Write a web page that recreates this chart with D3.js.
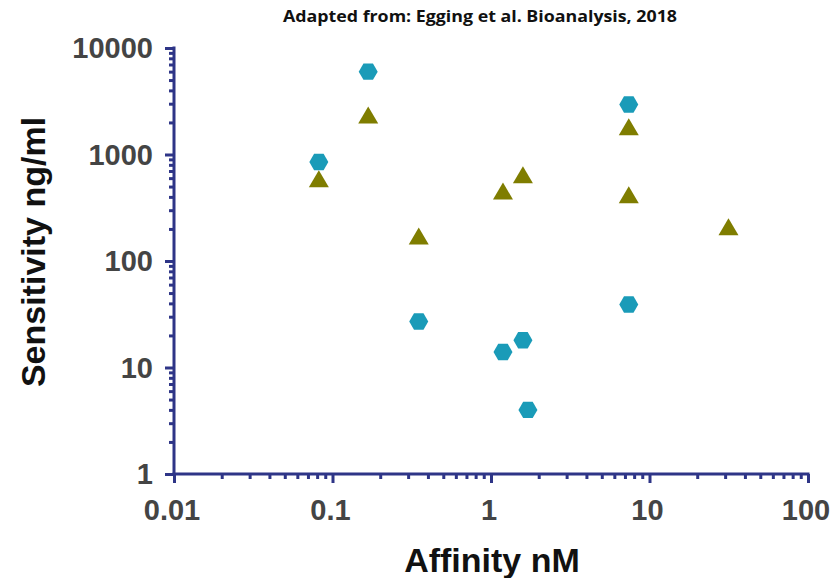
<!DOCTYPE html>
<html>
<head>
<meta charset="utf-8">
<script src="https://cdn.jsdelivr.net/npm/d3@7"></script>
<style>
  html, body { margin: 0; padding: 0; background: #fff; }
  svg { display: block; }
</style>
</head>
<body>
<svg id="chart" width="840" height="578"></svg>
<script>
// Affinity (nM) vs sensitivity (ng/ml) for two assay formats
const hexAffinity    = [0.082, 0.168, 0.35, 1.19, 1.59, 1.71, 7.4, 7.4];
const hexSensitivity = [850, 6000, 27, 14, 18, 4, 2950, 39];
const triAffinity    = [0.082, 0.168, 0.35, 1.19, 1.59, 7.4, 7.4, 31.5];
const triSensitivity = [580, 2300, 168, 445, 630, 1780, 410, 205];

const xTicks = [0.01, 0.1, 1, 10, 100];
const yTicks = [1, 10, 100, 1000, 10000];
const xTickLabels = ["0.01", "0.1", "1", "10", "100"];
const yTickLabels = ["1", "10", "100", "1000", "10000"];

const svg = d3.select("#chart");
const axisColor = "#2e3587";
const plotLeft = 174, plotRight = 808, plotTop = 48, plotBottom = 474;

const x = d3.scaleLog().domain([0.01, 100]).range([plotLeft, plotRight]);
const y = d3.scaleLog().domain([1, 10000]).range([plotBottom, plotTop]);

// minor ticks: 2..9 within each decade
function minorTicks(lo, hi) {
  const out = [];
  for (let d = lo; d < hi; d *= 10) {
    for (let k = 2; k <= 9; k++) out.push(d * k);
  }
  return out;
}

// title
svg.append("text")
  .attr("x", 283).attr("y", 22)
  .attr("font-family", "'Open Sans', sans-serif")
  .attr("font-weight", "bold")
  .attr("font-size", 16)
  .attr("textLength", 394)
  .attr("lengthAdjust", "spacingAndGlyphs")
  .attr("fill", "#111")
  .text("Adapted from: Egging et al. Bioanalysis, 2018");

// axes built from d3 axis generators
const xAxisMajor = d3.axisBottom(x).tickValues(xTicks).tickSize(9).tickFormat(() => "");
const xAxisMinor = d3.axisBottom(x).tickValues(minorTicks(0.01, 100)).tickSize(5).tickFormat(() => "");
const yAxisMajor = d3.axisLeft(y).tickValues(yTicks).tickSize(9).tickFormat(() => "");
const yAxisMinor = d3.axisLeft(y).tickValues(minorTicks(1, 10000)).tickSize(5).tickFormat(() => "");

function styleAxis(g) {
  g.select(".domain").remove();
  g.selectAll("line").attr("stroke", axisColor).attr("stroke-width", 3);
}

svg.append("g").attr("transform", `translate(0,${plotBottom})`).call(xAxisMinor).call(styleAxis);
svg.append("g").attr("transform", `translate(0,${plotBottom})`).call(xAxisMajor).call(styleAxis);
svg.append("g").attr("transform", `translate(${plotLeft},0)`).call(yAxisMinor).call(styleAxis);
svg.append("g").attr("transform", `translate(${plotLeft},0)`).call(yAxisMajor).call(styleAxis);

// axis lines
svg.append("line")
  .attr("x1", x(0.01) - 1.5).attr("x2", x(100) + 1.5)
  .attr("y1", plotBottom).attr("y2", plotBottom)
  .attr("stroke", axisColor).attr("stroke-width", 3);
svg.append("line")
  .attr("x1", plotLeft).attr("x2", plotLeft)
  .attr("y1", y(10000) - 1.5).attr("y2", y(1) + 1.5)
  .attr("stroke", axisColor).attr("stroke-width", 3);

// tick labels
const labelFont = "'Liberation Sans', Arial, sans-serif";
svg.append("g").selectAll("text")
  .data(xTicks)
  .join("text")
  .attr("x", d => x(d) - 2)
  .attr("y", 520)
  .attr("text-anchor", "middle")
  .attr("font-family", labelFont)
  .attr("font-weight", "bold")
  .attr("font-size", 29)
  .attr("fill", "#444")
  .text((d, i) => xTickLabels[i]);

svg.append("g").selectAll("text")
  .data(yTicks)
  .join("text")
  .attr("x", 153)
  .attr("y", d => y(d))
  .attr("dy", "0.36em")
  .attr("text-anchor", "end")
  .attr("font-family", labelFont)
  .attr("font-weight", "bold")
  .attr("font-size", 29)
  .attr("fill", "#444")
  .text((d, i) => yTickLabels[i]);

// axis titles
svg.append("text")
  .attr("x", 492).attr("y", 572)
  .attr("text-anchor", "middle")
  .attr("font-family", labelFont)
  .attr("font-weight", "bold")
  .attr("font-size", 34)
  .attr("fill", "#111")
  .text("Affinity nM");

svg.append("text")
  .attr("transform", "translate(45,252) rotate(-90)")
  .attr("text-anchor", "middle")
  .attr("font-family", labelFont)
  .attr("font-weight", "bold")
  .attr("font-size", 34)
  .attr("fill", "#111")
  .text("Sensitivity ng/ml");

// markers
const hexPath = (() => {
  const rx = 9.5, ry = 8.2;
  const pts = [[-rx, 0], [-rx / 2, -ry], [rx / 2, -ry], [rx, 0], [rx / 2, ry], [-rx / 2, ry]];
  return "M" + pts.map(p => p.join(",")).join("L") + "Z";
})();
const triPath = "M0,-9.5L10,7.5L-10,7.5Z";

const hexData = hexAffinity.map((a, i) => ({ a, s: hexSensitivity[i] }));
const triData = triAffinity.map((a, i) => ({ a, s: triSensitivity[i] }));

svg.append("g").selectAll("path")
  .data(triData)
  .join("path")
  .attr("d", triPath)
  .attr("transform", d => `translate(${x(d.a)},${y(d.s)})`)
  .attr("fill", "#7f7d00");

svg.append("g").selectAll("path")
  .data(hexData)
  .join("path")
  .attr("d", hexPath)
  .attr("transform", d => `translate(${x(d.a)},${y(d.s)})`)
  .attr("fill", "#1a9bb8");
</script>
</body>
</html>
